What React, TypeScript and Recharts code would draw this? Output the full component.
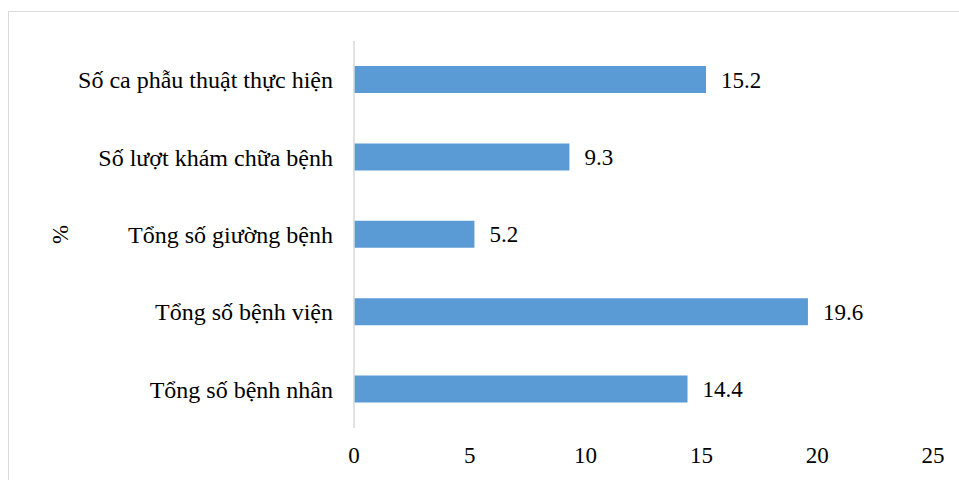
import { BarChart, Bar, XAxis, YAxis, LabelList, Label } from 'recharts'

const categories = [
  'Số ca phẫu thuật thực hiện',
  'Số lượt khám chữa bệnh',
  'Tổng số giường bệnh',
  'Tổng số bệnh viện',
  'Tổng số bệnh nhân',
]
const values = [15.2, 9.3, 5.2, 19.6, 14.4]
const xTicks = [0, 5, 10, 15, 20, 25]
const axisTitle = '%'

const data = categories.map((name, i) => ({ name, value: values[i] }))

const FONT = 'Liberation Serif, Times New Roman, serif'
const BAR_COLOR = '#5B9BD5'
const LINE_GRAY = '#D9D9D9'

export default function App() {
  return (
    <div
      style={{
        position: 'absolute',
        left: 0,
        top: 0,
        width: 959,
        height: 480,
        overflow: 'hidden',
        background: '#fff',
        fontFamily: FONT,
      }}
    >
      {/* outer chart frame, runs past the right/bottom edge */}
      <div
        style={{
          position: 'absolute',
          left: 8,
          top: 11,
          width: 1000,
          height: 520,
          border: `1.5px solid ${LINE_GRAY}`,
        }}
      />
      <div style={{ position: 'absolute', left: 0, top: 0 }}>
        <BarChart
          width={959}
          height={480}
          data={data}
          layout="vertical"
          margin={{ top: 41, right: 26, left: 14, bottom: 12 }}
          style={{ fontFamily: FONT }}
        >
          <XAxis
            type="number"
            domain={[0, 25]}
            ticks={xTicks}
            axisLine={false}
            tickLine={false}
            tickSize={0}
            tickMargin={19}
            height={40}
            tick={{ fill: '#000', fontSize: 23, fontFamily: FONT }}
            interval={0}
          />
          <YAxis
            type="category"
            dataKey="name"
            width={340}
            axisLine={{ stroke: LINE_GRAY, strokeWidth: 1.5 }}
            tickLine={false}
            tickSize={0}
            tickMargin={21}
            tick={{ fill: '#000', fontSize: 24, fontFamily: FONT }}
            interval={0}
          >
            <Label
              value={axisTitle}
              angle={-90}
              position="insideLeft"
              offset={0}
              dx={46}
              fontSize={23}
              fontFamily={FONT}
              fill="#000"
              style={{ textAnchor: 'middle' }}
            />
          </YAxis>
          <Bar dataKey="value" fill={BAR_COLOR} barSize={27} isAnimationActive={false}>
            <LabelList
              dataKey="value"
              position="right"
              offset={15}
              formatter={(v: number) => v.toFixed(1)}
              fill="#000"
              fontSize={23}
              fontFamily={FONT}
            />
          </Bar>
        </BarChart>
      </div>
    </div>
  )
}
